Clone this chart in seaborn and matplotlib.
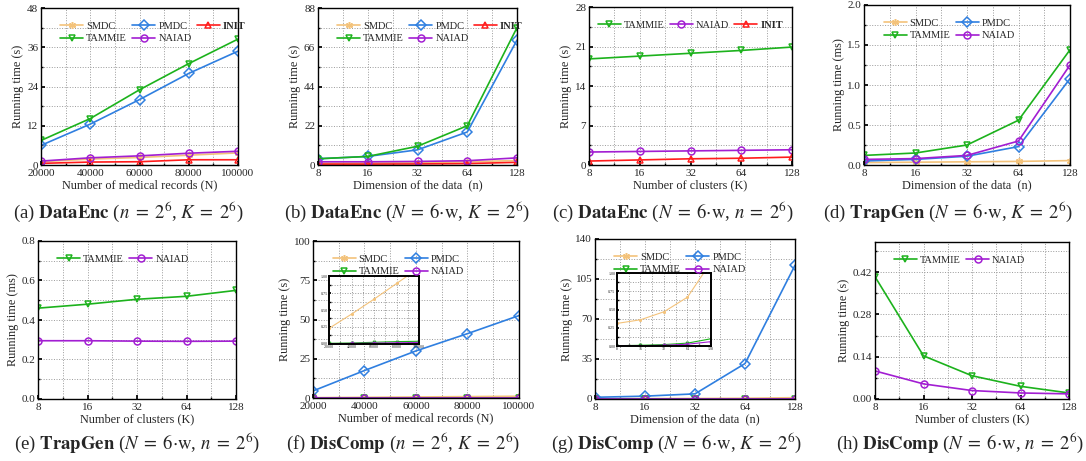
import numpy as np
import pandas as pd
import matplotlib
matplotlib.use("Agg")
import matplotlib.pyplot as plt
from matplotlib.ticker import (AutoMinorLocator, FixedLocator, NullFormatter,
                               ScalarFormatter, FormatStrFormatter)
import seaborn as sns

# --- data ---
records = [20000, 40000, 60000, 80000, 100000]
dims = [8, 16, 32, 64, 128]
clusters = [8, 16, 32, 64, 128]

# (a) DataEnc vs N
a_smdc = [1.0, 1.8, 2.3, 3.0, 3.7]
a_pmdc = [6.0, 12.5, 20.0, 28.0, 34.8]
a_init = [0.5, 0.9, 1.0, 1.6, 1.6]
a_tammie = [7.5, 14.2, 23.0, 31.0, 38.5]
a_naiad = [1.2, 2.2, 2.8, 3.6, 4.2]

# (b) DataEnc vs n
b_smdc = [1.0, 1.1, 1.3, 1.8, 2.5]
b_pmdc = [3.5, 4.8, 8.5, 18.5, 70.0]
b_init = [0.5, 0.5, 0.6, 0.8, 1.5]
b_tammie = [3.5, 4.8, 10.5, 22.0, 77.0]
b_naiad = [1.8, 1.8, 2.0, 2.4, 4.0]

# (c) DataEnc vs K
c_tammie = [18.8, 19.3, 19.8, 20.3, 20.9]
c_naiad = [2.3, 2.4, 2.5, 2.6, 2.7]
c_init = [0.7, 0.9, 1.1, 1.2, 1.4]

# (d) TrapGen vs n (ms)
d_smdc = [0.03, 0.035, 0.04, 0.045, 0.055]
d_pmdc = [0.05, 0.07, 0.11, 0.23, 1.08]
d_tammie = [0.12, 0.15, 0.25, 0.56, 1.44]
d_naiad = [0.07, 0.08, 0.12, 0.30, 1.25]

# (e) TrapGen vs K (ms)
e_tammie = [0.46, 0.48, 0.505, 0.52, 0.55]
e_naiad = [0.295, 0.295, 0.293, 0.292, 0.293]

# (f) DisComp vs N
f_smdc = [0.23, 0.44, 0.66, 0.89, 1.12]
f_pmdc = [4.5, 17.5, 30.0, 41.0, 52.5]
f_tammie = [0.01, 0.015, 0.025, 0.035, 0.04]
f_naiad = [0.005, 0.008, 0.012, 0.018, 0.022]

# (g) DisComp vs n
g_smdc = [0.31, 0.36, 0.47, 0.67, 1.15]
g_pmdc = [1.5, 2.5, 4.5, 31.0, 117.0]
g_tammie = [0.005, 0.01, 0.02, 0.04, 0.10]
g_naiad = [0.003, 0.005, 0.01, 0.025, 0.06]

# (h) DisComp vs K
h_tammie = [0.405, 0.143, 0.077, 0.042, 0.02]
h_naiad = [0.093, 0.05, 0.028, 0.02, 0.017]

STYLE = {
    "SMDC": dict(color="#F3C27A", marker=(6, 2, 0)),
    "PMDC": dict(color="#2F7FE0", marker="D"),
    "INIT": dict(color="#FF1C1C", marker="^"),
    "TAMMIE": dict(color="#1CB21C", marker="v"),
    "NAIAD": dict(color="#A21ED2", marker="o"),
}

sns.set_theme(style="ticks")
plt.rcParams["font.family"] = ["Liberation Serif", "DejaVu Serif"]
plt.rcParams["mathtext.fontset"] = "stix"

W, H = 1086, 461
fig = plt.figure(figsize=(W / 100, H / 100), dpi=100)


def add_ax(l, t, r, b):
    return fig.add_axes([l / W, 1 - b / H, (r - l) / W, (b - t) / H])


def draw(ax, x, series, ms=5.0, lw=1.2):
    for name, vals in series.items():
        st = STYLE[name]
        sns.lineplot(x=x, y=vals, ax=ax, color=st["color"], marker=st["marker"],
                     markersize=ms, markerfacecolor="none",
                     markeredgecolor=st["color"], markeredgewidth=lw * 0.9,
                     linewidth=lw, label=name, errorbar=None, legend=False)


def style_axes(ax, xlog, xlim, yticks, ylim=None, yfmt=None, tick_fs=8):
    if xlog:
        ticks = [8, 16, 32, 64, 128]
        ax.set_xscale("log", base=2)
        ax.xaxis.set_major_locator(FixedLocator(ticks))
        ax.xaxis.set_major_formatter(ScalarFormatter())
        ax.xaxis.set_minor_locator(FixedLocator([v * 2 ** 0.5 for v in ticks[:-1]]))
        ax.xaxis.set_minor_formatter(NullFormatter())
    else:
        ax.xaxis.set_major_locator(FixedLocator([20000, 40000, 60000, 80000, 100000]))
        ax.xaxis.set_minor_locator(AutoMinorLocator(2))
    ax.set_xlim(*xlim)
    ax.set_yticks(yticks)
    ax.yaxis.set_minor_locator(AutoMinorLocator(2))
    ax.set_ylim(ylim if ylim else (yticks[0], yticks[-1]))
    if yfmt:
        ax.yaxis.set_major_formatter(FormatStrFormatter(yfmt))
    ax.grid(which="both", linestyle=":", color="#9a9a9a", linewidth=0.7)
    ax.tick_params(which="both", direction="in", labelsize=tick_fs, length=3,
                   color="black", pad=2)
    ax.tick_params(axis="x", pad=3)
    ax.tick_params(which="minor", length=1.5)
    for s in ax.spines.values():
        s.set_visible(True)
        s.set_color("black")
        s.set_linewidth(1.0)


def legend(ax, order, ncol, loc="upper left", anchor=None, fs=7.5):
    h, l = ax.get_legend_handles_labels()
    d = dict(zip(l, h))
    kw = dict(ncol=ncol, frameon=False, fontsize=fs, handlelength=2.2,
              handletextpad=0.3, columnspacing=0.5, labelspacing=0.3,
              borderaxespad=0.3, loc=loc)
    if anchor:
        kw["bbox_to_anchor"] = anchor
    leg = ax.legend([d[k] for k in order], order, **kw)
    for t in leg.get_texts():
        if t.get_text() == "INIT":
            t.set_fontweight("bold")


lab_fs = 8.8
cap_fs = 13.5

# (a)
ax = add_ax(41, 8, 238, 165)
draw(ax, records, {"SMDC": a_smdc, "PMDC": a_pmdc, "INIT": a_init,
                   "TAMMIE": a_tammie, "NAIAD": a_naiad})
style_axes(ax, False, (20000, 100000), [0, 12, 24, 36, 48])
ax.set_xlabel("Number of medical records (N)", fontsize=lab_fs, labelpad=1)
ax.set_ylabel("Running time (s)", fontsize=lab_fs, labelpad=2)
legend(ax, ["SMDC", "TAMMIE", "PMDC", "NAIAD", "INIT"], 3, anchor=(0.06, 0.96))

# (b)
ax = add_ax(318, 8, 517, 165)
draw(ax, dims, {"SMDC": b_smdc, "PMDC": b_pmdc, "INIT": b_init,
                "TAMMIE": b_tammie, "NAIAD": b_naiad})
style_axes(ax, True, (8, 128), [0, 22, 44, 66, 88])
ax.set_xlabel("Dimension of the data  (n)", fontsize=lab_fs, labelpad=1)
ax.set_ylabel("Running time (s)", fontsize=lab_fs, labelpad=2)
legend(ax, ["SMDC", "TAMMIE", "PMDC", "NAIAD", "INIT"], 3, anchor=(0.06, 0.96))

# (c)
ax = add_ax(589, 7, 792, 165)
draw(ax, clusters, {"TAMMIE": c_tammie, "NAIAD": c_naiad, "INIT": c_init})
style_axes(ax, True, (8, 128), [0, 7, 14, 21, 28])
ax.set_xlabel("Number of clusters (K)", fontsize=lab_fs, labelpad=1)
ax.set_ylabel("Running time (s)", fontsize=lab_fs, labelpad=2)
legend(ax, ["TAMMIE", "NAIAD", "INIT"], 3, loc="upper center", anchor=(0.5, 0.96))

# (d)
ax = add_ax(864, 5, 1070, 165)
draw(ax, dims, {"SMDC": d_smdc, "PMDC": d_pmdc, "TAMMIE": d_tammie, "NAIAD": d_naiad})
style_axes(ax, True, (8, 128), [0, 0.5, 1.0, 1.5, 2.0], yfmt="%.1f")
ax.set_xlabel("Dimension of the data  (n)", fontsize=lab_fs, labelpad=1)
ax.set_ylabel("Running time (ms)", fontsize=lab_fs, labelpad=2)
legend(ax, ["SMDC", "TAMMIE", "PMDC", "NAIAD"], 2, anchor=(0.06, 0.96))

# (e)
ax = add_ax(38, 241, 236, 399)
draw(ax, clusters, {"TAMMIE": e_tammie, "NAIAD": e_naiad})
style_axes(ax, True, (8, 128), [0, 0.2, 0.4, 0.6, 0.8], yfmt="%.1f")
ax.set_xlabel("Number of clusters (K)", fontsize=lab_fs, labelpad=1)
ax.set_ylabel("Running time (ms)", fontsize=lab_fs, labelpad=2)
legend(ax, ["TAMMIE", "NAIAD"], 2, anchor=(0.06, 0.96))

# (f)
ax = add_ax(313, 241, 519, 398)
draw(ax, records, {"SMDC": f_smdc, "PMDC": f_pmdc, "TAMMIE": f_tammie, "NAIAD": f_naiad})
style_axes(ax, False, (20000, 100000), [0, 25, 50, 75, 100])
ax.set_xlabel("Number of medical records (N)", fontsize=lab_fs, labelpad=1)
ax.set_ylabel("Running time (s)", fontsize=lab_fs, labelpad=2)
legend(ax, ["SMDC", "TAMMIE", "PMDC", "NAIAD"], 2, anchor=(0.06, 0.96))
ins = ax.inset_axes([0.078, 0.344, 0.437, 0.433])
draw(ins, records, {"SMDC": f_smdc, "TAMMIE": f_tammie, "NAIAD": f_naiad}, ms=2.0, lw=0.8)
style_axes(ins, False, (20000, 100000), [0, 0.25, 0.5, 0.75, 1.0], yfmt="%.2f", tick_fs=3)
ins.set_xlabel("")
ins.tick_params(which="both", length=1.5, pad=1)
for s in ins.spines.values():
    s.set_linewidth(1.4)
ins.set_facecolor("white")

# (g)
ax = add_ax(595, 239, 795, 399)
draw(ax, dims, {"SMDC": g_smdc, "PMDC": g_pmdc, "TAMMIE": g_tammie, "NAIAD": g_naiad})
style_axes(ax, True, (8, 128), [0, 35, 70, 105, 140])
ax.set_xlabel("Dimension of the data  (n)", fontsize=lab_fs, labelpad=1)
ax.set_ylabel("Running time (s)", fontsize=lab_fs, labelpad=2)
legend(ax, ["SMDC", "TAMMIE", "PMDC", "NAIAD"], 2, anchor=(0.06, 0.96))
ins = ax.inset_axes([0.11, 0.331, 0.47, 0.456])
draw(ins, dims, {"SMDC": g_smdc, "TAMMIE": g_tammie, "NAIAD": g_naiad}, ms=2.0, lw=0.8)
style_axes(ins, True, (8, 128), [0, 0.25, 0.5, 0.75, 1.0], yfmt="%.2f", tick_fs=3)
ins.tick_params(which="both", length=1.5, pad=1)
for s in ins.spines.values():
    s.set_linewidth(1.4)
ins.set_facecolor("white")

# (h)
ax = add_ax(875, 242, 1069, 399)
draw(ax, clusters, {"TAMMIE": h_tammie, "NAIAD": h_naiad})
style_axes(ax, True, (8, 128), [0, 0.14, 0.28, 0.42], ylim=(0, 0.52), yfmt="%.2f")
ax.set_xlabel("Number of clusters (K)", fontsize=lab_fs, labelpad=1)
ax.set_ylabel("Running time (s)", fontsize=lab_fs, labelpad=2)
legend(ax, ["TAMMIE", "NAIAD"], 2, anchor=(0.06, 0.96))

# captions
eq = r"\;=\;"
caps = [
    (128, 212, rf"(a) $\mathbf{{DataEnc}}$ ($n{eq}2^{{6}}$, $K{eq}2^{{6}}$)"),
    (407, 212, rf"(b) $\mathbf{{DataEnc}}$ ($N{eq}6{{\cdot}}\mathrm{{w}}$, $K{eq}2^{{6}}$)"),
    (673, 212, rf"(c) $\mathbf{{DataEnc}}$ ($N{eq}6{{\cdot}}\mathrm{{w}}$, $n{eq}2^{{6}}$)"),
    (948, 212, rf"(d) $\mathbf{{TrapGen}}$ ($N{eq}6{{\cdot}}\mathrm{{w}}$, $K{eq}2^{{6}}$)"),
    (137, 443, rf"(e) $\mathbf{{TrapGen}}$ ($N{eq}6{{\cdot}}\mathrm{{w}}$, $n{eq}2^{{6}}$)"),
    (403, 443, rf"(f) $\mathbf{{DisComp}}$ ($n{eq}2^{{6}}$, $K{eq}2^{{6}}$)"),
    (677, 443, rf"(g) $\mathbf{{DisComp}}$ ($N{eq}6{{\cdot}}\mathrm{{w}}$, $K{eq}2^{{6}}$)"),
    (960, 443, rf"(h) $\mathbf{{DisComp}}$ ($N{eq}6{{\cdot}}\mathrm{{w}}$, $n{eq}2^{{6}}$)"),
]
for cx, cy, txt in caps:
    fig.text(cx / W, 1 - cy / H, txt, ha="center", va="center", fontsize=cap_fs)

fig.savefig("out.png", dpi=100)
